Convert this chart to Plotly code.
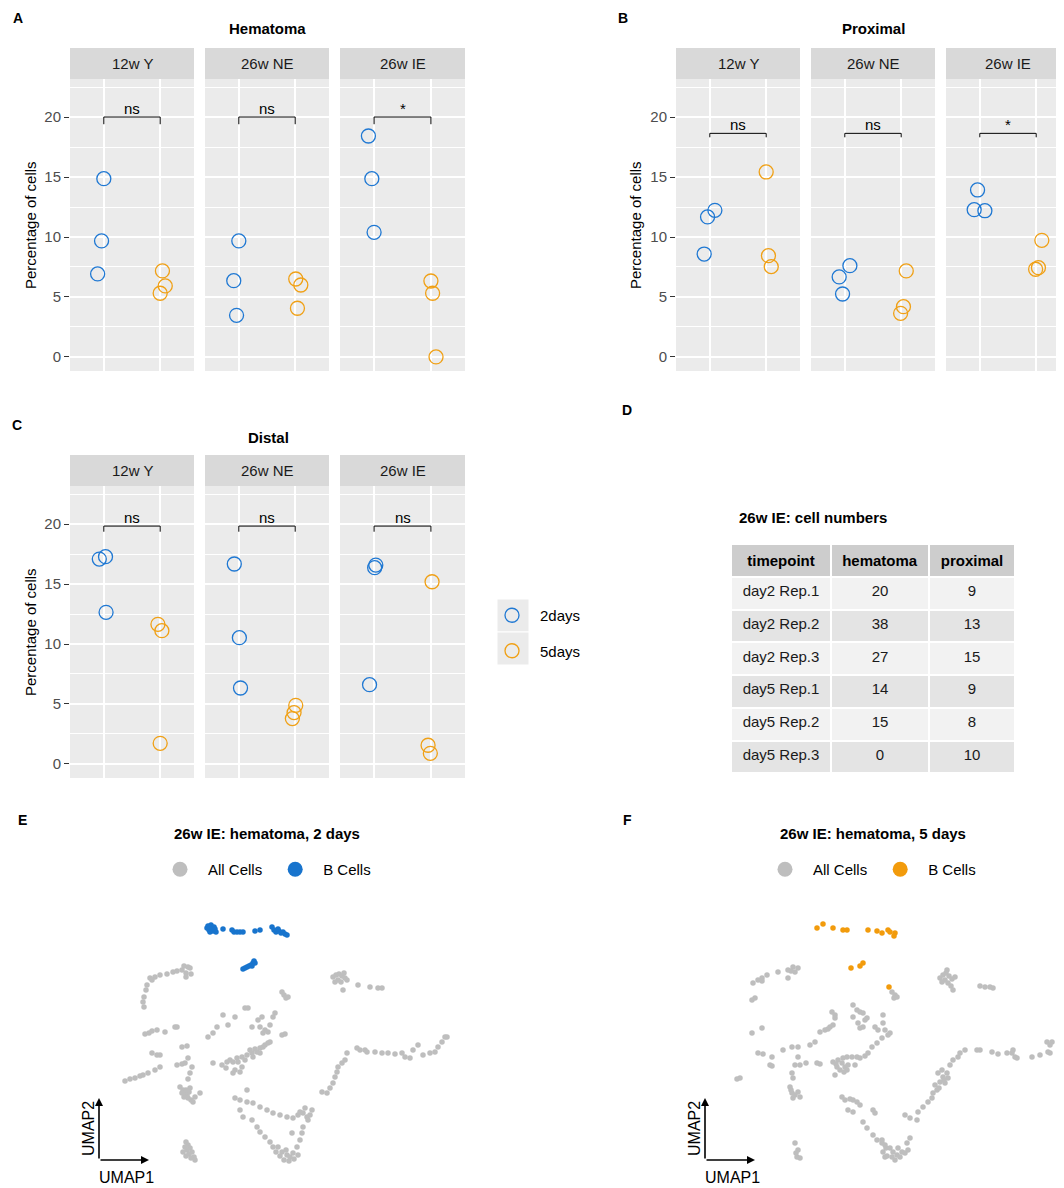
import plotly.graph_objects as go

# ---------------- data ----------------
regions = ["Hematoma", "Proximal", "Distal"]
facets = ["12w Y", "26w NE", "26w IE"]
groups = ["2days", "5days"]

# percentage of cells, per facet (12w Y, 26w NE, 26w IE), 3 replicates each
hema_2d = [[14.86, 9.67, 6.92], [9.67, 6.36, 3.47], [18.42, 14.86, 10.39]]
hema_2d_jit = [[0.0, -0.04, -0.11], [0.0, -0.09, -0.04], [-0.10, -0.04, 0.0]]
hema_5d = [[7.17, 5.92, 5.31], [6.50, 6.00, 4.06], [6.33, 5.31, 0.0]]
hema_5d_jit = [[0.04, 0.09, 0.0], [0.01, 0.10, 0.04], [0.0, 0.03, 0.09]]

prox_2d = [[12.22, 11.67, 8.58], [7.61, 6.67, 5.25], [13.92, 12.28, 12.19]]
prox_2d_jit = [[0.09, -0.04, -0.10], [0.09, -0.10, -0.04], [-0.04, -0.10, 0.09]]
prox_5d = [[15.42, 8.44, 7.53], [7.17, 4.19, 3.64], [9.72, 7.44, 7.31]]
prox_5d_jit = [[0.0, 0.04, 0.09], [0.09, 0.04, -0.01], [0.10, 0.04, -0.01]]

dist_2d = [[17.08, 17.28, 12.64], [16.67, 10.53, 6.33], [16.58, 16.36, 6.61]]
dist_2d_jit = [[-0.08, 0.03, 0.04], [-0.08, 0.01, 0.03], [0.03, 0.01, -0.08]]
dist_5d = [[11.64, 11.11, 1.72], [4.89, 4.28, 3.78], [15.19, 1.56, 0.89]]
dist_5d_jit = [[-0.04, 0.03, 0.0], [0.01, -0.02, -0.05], [0.02, -0.05, -0.01]]

sig_labels = [["ns", "ns", "*"], ["ns", "ns", "*"], ["ns", "ns", "ns"]]
bracket_y = [20.0, 18.64, 19.83]
bracket_tip = [0.6, 0.33, 0.47]

# table D
tbl_timepoint = ["day2 Rep.1", "day2 Rep.2", "day2 Rep.3", "day5 Rep.1", "day5 Rep.2", "day5 Rep.3"]
tbl_hematoma = [20, 38, 27, 14, 15, 0]
tbl_proximal = [9, 13, 15, 9, 8, 10]

# UMAP E (2 days): all cells
e_all_u1 = [4.4, 4.3, 4.4, 4.6, 4.7, 5.0, 5.5, 6.0, 6.7, 7.3, 7.7, 8.2, 8.6, 8.8, 9.0, 8.6, 9.1, 8.4, 5.2,
            23.3, 23.6, 23.9, 24.2, 24.5, 24.7, 23.8, 23.5, 24.1, 24.4, 24.3, 25.8, 27.0, 27.8, 28.2,
            18.2, 18.4, 18.6, 18.8,
            4.5, 4.9, 5.2, 5.7, 6.5, 7.5, 7.7,
            5.2, 5.7, 6.0, 8.2, 8.7,
            2.5, 3.0, 3.5, 4.0, 4.3, 4.8, 5.5, 6.0,
            7.7, 8.2, 8.5, 8.8, 9.2, 9.0, 8.8,
            8.0, 8.3, 8.5, 8.7, 8.9, 8.8, 9.1, 8.4, 9.0, 9.3, 10.0, 8.6, 8.2, 9.5,
            8.6, 8.8, 9.0, 8.7, 9.2, 8.9, 9.4, 8.6, 9.1, 9.5, 8.5, 8.3,
            10.8, 11.3, 11.7, 12.3, 12.8, 13.5, 14.5, 14.8,
            15.2, 15.8, 16.2, 16.0, 16.5, 16.8, 17.0, 17.5, 17.3, 18.2, 18.5, 16.3,
            12.2, 12.7, 13.0, 13.3, 13.7, 14.2, 14.7, 15.2, 15.7, 16.0, 16.3, 16.8, 14.5, 15.3, 16.0,
            13.3, 13.5, 14.0, 14.2, 11.3, 12.6, 15.0, 16.5, 13.8, 15.5, 17.0,
            13.5, 14.0, 14.7, 14.7, 15.3, 16.0, 16.7, 17.3, 18.0, 18.7, 19.3, 19.8, 20.3, 20.7, 21.2, 20.8,
            14.0, 14.3, 15.2, 15.7, 16.0, 16.5, 17.0, 17.3, 17.8, 18.2, 18.7, 19.0, 19.3, 19.7, 20.0, 20.2,
            20.3, 19.2, 17.6, 18.0, 18.4, 18.9, 19.4, 19.8, 18.6, 20.0, 20.5, 21.0,
            22.2, 22.7, 23.0, 23.3, 23.5, 23.7, 23.8, 24.2, 24.5, 24.7, 25.7, 26.0, 26.5, 26.7, 27.5,
            28.2, 28.8, 29.5, 30.2, 30.5, 31.0, 31.3, 31.8, 32.3, 33.0, 33.5, 33.8, 34.2, 34.5, 34.7]
e_all_u2 = [19.3, 19.8, 20.3, 21.0, 21.5, 22.2, 22.3, 22.5, 22.6, 22.8, 22.9, 23.0, 22.7, 23.3, 23.2, 22.3, 22.6, 23.4, 22.0,
            22.3, 22.5, 22.6, 22.4, 22.2, 22.0, 22.0, 21.8, 21.8, 22.7, 21.0, 21.5, 21.3, 21.2, 21.2,
            20.8, 20.5, 20.2, 20.3,
            16.6, 16.7, 16.9, 17.0, 16.8, 17.3, 17.3,
            14.7, 14.5, 14.5, 15.3, 15.4,
            11.9, 12.1, 12.2, 12.4, 12.5, 12.7, 13.0, 13.3,
            13.5, 13.6, 13.7, 14.2, 13.3, 12.7, 12.1,
            11.3, 11.0, 10.7, 10.5, 10.8, 10.2, 10.0, 10.3, 11.2, 9.8, 10.7, 11.0, 10.7, 10.3,
            5.8, 5.5, 5.2, 5.0, 4.8, 4.6, 4.3, 4.4, 4.2, 4.0, 5.3, 4.8,
            16.3, 16.7, 17.3, 18.5, 17.5, 18.3, 19.2, 19.2,
            17.3, 18.0, 18.3, 17.3, 17.0, 16.8, 17.5, 18.7, 18.3, 16.5, 16.6, 16.7,
            13.5, 13.8, 14.0, 13.8, 14.2, 14.3, 14.5, 14.7, 14.8, 15.2, 15.3, 15.7, 14.0, 14.3, 14.7,
            12.7, 13.0, 12.8, 13.3, 13.7, 13.2, 15.0, 15.5, 13.8, 15.1, 15.8,
            10.2, 10.0, 11.0, 9.8, 9.7, 9.3, 9.0, 8.7, 8.5, 8.3, 8.2, 8.5, 8.7, 8.3, 9.0, 8.0,
            9.0, 8.3, 8.0, 7.3, 6.8, 6.3, 5.8, 5.3, 5.3, 4.8, 4.5, 4.3, 4.7, 5.3, 6.0, 6.7,
            7.3, 6.7, 4.8, 4.4, 4.0, 3.9, 4.1, 4.5, 5.0, 8.8, 9.2, 8.5,
            10.8, 10.7, 11.2, 11.7, 12.3, 12.8, 13.3, 13.7, 14.0, 14.7, 15.2, 15.0, 15.0, 14.8, 14.8,
            14.7, 14.7, 14.6, 14.7, 14.3, 14.2, 15.0, 15.5, 14.5, 14.7, 14.8, 15.3, 15.8, 16.3, 16.3]
# UMAP E: B cells
e_b_u1 = [10.7, 10.8, 10.9, 11.0, 11.1, 11.2, 11.3, 11.4, 11.5, 11.6, 11.0, 12.3, 13.2, 13.4, 13.7, 14.0,
          14.3, 15.5, 16.0, 17.2, 17.4, 17.6, 17.9, 18.1, 18.3, 18.5, 18.7, 17.8,
          14.3, 14.5, 14.7, 14.9, 15.1, 15.3, 15.4, 15.5, 15.2]
e_b_u2 = [27.2, 27.4, 27.0, 27.3, 27.5, 27.1, 26.9, 27.3, 27.1, 26.8, 26.8, 27.1, 27.0, 26.8, 26.8, 26.8,
          26.8, 26.9, 27.0, 27.3, 27.0, 26.8, 26.9, 26.7, 26.8, 26.6, 26.5, 27.1,
          23.1, 23.2, 23.3, 23.4, 23.5, 23.7, 23.9, 23.7, 23.4]

# UMAP F (5 days): all cells
f_all_u1 = [5.3, 5.8, 6.2, 6.7, 7.8, 8.8, 8.8, 9.3, 9.8, 9.5, 9.1, 5.2, 5.5, 6.2,
            5.2, 6.2,
            5.8, 6.3, 7.2, 7.0, 7.2, 8.3, 9.2, 9.8, 9.8, 9.5, 10.0, 9.2, 9.3, 10.6, 11.0, 11.5, 12.0, 12.5,
            12.8, 13.0, 13.3, 13.2, 13.5, 13.5, 11.7, 12.0, 3.7, 4.0,
            9.0, 9.1, 9.2, 9.3, 9.8, 10.0, 9.5,
            9.5, 9.8, 9.7, 10.0, 9.6,
            13.3, 13.8, 14.2, 14.5, 13.7, 14.7, 14.0, 13.5, 14.3, 13.6, 14.8, 14.4,
            14.7, 15.2, 15.7, 16.0, 15.5, 16.5, 16.8, 17.2, 17.7, 17.5, 17.8, 18.3, 18.5, 18.2, 15.3, 15.7,
            16.0, 16.3, 16.7, 15.3, 15.8, 16.3, 16.0, 16.5, 18.3, 19.0, 18.8,
            14.2, 14.5, 15.0, 15.3, 15.7, 16.0, 14.8, 15.3, 16.3, 17.3, 17.5, 16.7, 17.3, 17.7, 18.2, 18.3,
            18.5, 18.6,
            19.2, 19.5, 19.7, 19.4,
            24.0, 24.3, 24.6, 24.9, 25.2, 24.5, 24.8, 25.1, 25.3, 24.2, 25.5, 24.7,
            28.0, 28.5, 29.0, 29.3,
            20.5, 21.0, 21.7, 21.8, 22.3, 22.8, 23.2, 23.3, 23.7, 23.5, 24.0, 24.3, 23.8, 24.2, 24.7, 24.8,
            24.5, 23.9, 24.4, 25.0, 25.3, 25.8, 26.0, 26.5, 27.7, 28.0, 29.2, 29.8, 30.7, 31.2, 31.3, 31.5,
            31.7, 33.2, 34.0, 34.7, 35.2, 35.0, 34.8, 35.0,
            18.2, 18.5, 19.0, 19.3, 19.7, 20.0, 20.5, 20.8, 21.0, 20.7, 19.5, 18.7, 20.2, 19.8, 19.2]
f_all_u2 = [21.7, 22.0, 22.2, 22.5, 22.8, 23.0, 22.2, 23.3, 23.2, 22.8, 22.9, 20.0, 20.2, 21.9,
            16.7, 17.2,
            14.7, 14.6, 14.3, 13.5, 13.4, 15.0, 15.3, 15.3, 14.3, 13.5, 13.5, 12.7, 12.2, 13.7, 15.5, 15.8,
            16.8, 17.0, 17.1, 17.3, 17.5, 18.8, 18.5, 18.2, 13.7, 13.6, 12.1, 12.2,
            11.3, 11.0, 10.7, 10.2, 10.8, 10.3, 10.5,
            5.7, 5.0, 4.3, 4.2, 4.7,
            13.8, 14.0, 13.7, 13.3, 13.3, 13.0, 13.0, 12.5, 14.2, 13.6, 13.5, 12.8,
            14.3, 14.3, 14.3, 14.2, 13.5, 14.4, 14.7, 15.3, 15.7, 17.3, 17.0, 17.7, 17.0, 16.2, 19.5, 19.0,
            18.8, 18.7, 18.2, 18.3, 17.7, 17.3, 17.2, 18.0, 18.5, 16.7, 16.5,
            10.3, 10.0, 10.1, 10.0, 9.8, 9.5, 9.0, 8.8, 7.8, 9.0, 8.7, 7.2, 6.5, 6.0, 5.7, 4.8,
            4.3, 5.2,
            20.8, 20.5, 20.3, 20.2,
            22.2, 22.5, 22.7, 22.4, 22.1, 22.0, 21.7, 21.4, 21.0, 21.8, 22.3, 23.0,
            21.4, 21.3, 21.3, 21.2,
            8.5, 8.2, 8.0, 8.8, 9.3, 9.8, 10.2, 10.7, 11.0, 11.5, 11.8, 12.3, 12.7, 13.0, 12.7, 12.2,
            11.7, 11.2, 12.0, 13.5, 14.0, 14.3, 14.7, 15.0, 15.0, 15.0, 14.8, 14.6, 14.7, 14.7, 15.0, 14.3,
            14.2, 14.3, 14.5, 15.8, 15.8, 15.5, 14.8, 14.7,
            6.0, 5.5, 5.2, 4.8, 4.5, 4.3, 4.7, 5.0, 6.2, 5.7, 4.0, 4.4, 4.8, 5.2, 4.3]
# UMAP F: B cells
f_b_u1 = [11.7, 12.3, 13.3, 14.3, 14.7, 16.8, 17.7, 18.2, 18.8, 19.0, 19.5, 19.4, 15.1, 16.0, 16.3, 18.9]
f_b_u2 = [27.2, 27.6, 27.2, 27.0, 27.0, 27.0, 26.9, 26.7, 27.0, 26.8, 26.7, 26.4, 23.2, 23.4, 23.7, 21.3]

# ---------------- styling ----------------
PAGE_OFF = 8                      # default body margin of the html page
W, H = 1064 - PAGE_OFF, 1188 - PAGE_OFF
FONT = "Liberation Sans, Arial, Helvetica, sans-serif"
BLUE = "#1F78D3"
ORANGE = "#F0A015"
B_BLUE = "#1874CD"
B_ORANGE = "#F29B0C"
GRAY = "#BEBEBE"


def px(x):
    return min(1.0, max(0.0, (x - PAGE_OFF) / W))


def py(y):
    return min(1.0, max(0.0, 1 - (y - PAGE_OFF) / H))


def sfx(k):
    return "" if k == 1 else str(k)


fig = go.Figure()
annotations = []
shapes = []

region_data = [
    (hema_2d, hema_2d_jit, hema_5d, hema_5d_jit),
    (prox_2d, prox_2d_jit, prox_5d, prox_5d_jit),
    (dist_2d, dist_2d_jit, dist_5d, dist_5d_jit),
]
panel_cols = [
    [(70, 194), (205, 329), (340, 465)],
    [(676, 800), (811, 935), (946, 1070)],
    [(70, 194), (205, 329), (340, 465)],
]
panel_rows = [(48, 79, 371), (48, 79, 371), (455, 486, 778)]  # strip top, panel top, panel bottom
titles_pos = [(267, 29), (873, 29), (268, 437)]
letters = [("A", 18, 18), ("B", 623, 18), ("C", 17, 425), ("D", 627, 410), ("E", 22, 820), ("F", 627, 820)]
ytitle_x = [30, 635, 30]
ylab_y = [(79 + 371) / 2, (79 + 371) / 2, (486 + 778) / 2]

k = 0
for r in range(3):
    d2, j2, d5, j5 = region_data[r]
    s0, p0, p1 = panel_rows[r]
    for f in range(3):
        k += 1
        s = sfx(k)
        a, b = panel_cols[r][f]
        b_clip = min(b, 1064)
        unit = (b - a) / 2.2
        xr = [0.4, 0.4 + (b_clip - a) / unit]
        xa = dict(domain=[px(a), px(b_clip)], range=xr, tickvals=[1, 2], showticklabels=False,
                  ticks="", showgrid=True, gridcolor="white", gridwidth=1.6, zeroline=False,
                  showline=False, fixedrange=True, anchor=f"y{s}")
        ya = dict(domain=[py(p1), py(p0)], range=[-1.17, 23.17], tickmode="linear", tick0=0, dtick=5,
                  showgrid=True, gridcolor="white", gridwidth=1.6, zeroline=False, showline=False,
                  minor=dict(dtick=2.5, tick0=0, showgrid=True, gridcolor="white", gridwidth=0.8, ticks=""),
                  fixedrange=True, anchor=f"x{s}")
        if f == 0:
            ya.update(ticks="outside", ticklen=5, tickwidth=1, tickcolor="#333333", showticklabels=True,
                      tickfont=dict(family=FONT, size=15, color="#4D4D4D"))
        else:
            ya.update(ticks="", showticklabels=False)
        fig.update_layout(**{f"xaxis{s}": xa, f"yaxis{s}": ya})

        # panel background and strip
        shapes.append(dict(type="rect", xref=f"x{s} domain", yref=f"y{s} domain", x0=0, x1=1, y0=0, y1=1,
                           fillcolor="#EBEBEB", line=dict(width=0), layer="below"))
        shapes.append(dict(type="rect", xref="paper", yref="paper", x0=px(a), x1=px(b_clip), y0=py(p0), y1=py(s0),
                           fillcolor="#D9D9D9", line=dict(width=0), layer="below"))
        annotations.append(dict(text=facets[f], x=px((a + b) / 2), y=py((s0 + p0) / 2), xref="paper", yref="paper",
                                showarrow=False, font=dict(family=FONT, size=15, color="#1A1A1A"),
                                xanchor="center", yanchor="middle"))

        show = (r == 2 and f == 0)
        fig.add_trace(go.Scatter(x=[1 + v for v in j2[f]], y=d2[f], mode="markers", name=groups[0],
                                 marker=dict(symbol="circle-open", size=14, color=BLUE, line=dict(width=1.3, color=BLUE)),
                                 xaxis=f"x{s}", yaxis=f"y{s}", showlegend=show, legend="legend",
                                 legendgroup="g2"))
        fig.add_trace(go.Scatter(x=[2 + v for v in j5[f]], y=d5[f], mode="markers", name=groups[1],
                                 marker=dict(symbol="circle-open", size=14, color=ORANGE, line=dict(width=1.3, color=ORANGE)),
                                 xaxis=f"x{s}", yaxis=f"y{s}", showlegend=show, legend="legend",
                                 legendgroup="g5"))
        # significance bracket
        by, bt = bracket_y[r], bracket_tip[r]
        fig.add_trace(go.Scatter(x=[1, 1, 2, 2], y=[by - bt, by, by, by - bt], mode="lines",
                                 line=dict(color="black", width=1), xaxis=f"x{s}", yaxis=f"y{s}",
                                 showlegend=False, hoverinfo="skip"))
        annotations.append(dict(text=sig_labels[r][f], x=1.5, y=by, xref=f"x{s}", yref=f"y{s}",
                                showarrow=False, xanchor="center", yanchor="bottom", yshift=-2,
                                font=dict(family=FONT, size=15, color="black")))

    # titles
    tx, ty = titles_pos[r]
    annotations.append(dict(text=f"<b>{regions[r]}</b>", x=px(tx), y=py(ty), xref="paper", yref="paper",
                            showarrow=False, font=dict(family=FONT, size=15, color="black"),
                            xanchor="center", yanchor="middle"))
    annotations.append(dict(text="Percentage of cells", x=px(ytitle_x[r]), y=py(ylab_y[r]), xref="paper",
                            yref="paper", showarrow=False, textangle=-90,
                            font=dict(family=FONT, size=15, color="black"), xanchor="center", yanchor="middle"))

for t, lx, ly in letters:
    annotations.append(dict(text=f"<b>{t}</b>", x=px(lx), y=py(ly), xref="paper", yref="paper",
                            showarrow=False, font=dict(family=FONT, size=14, color="black"),
                            xanchor="center", yanchor="middle"))

# legend key backgrounds for C
shapes.append(dict(type="rect", xref="paper", yref="paper", x0=px(497), x1=px(529), y0=py(632), y1=py(599),
                   fillcolor="#EBEBEB", line=dict(color="white", width=1), layer="below"))
shapes.append(dict(type="rect", xref="paper", yref="paper", x0=px(497), x1=px(529), y0=py(665), y1=py(632),
                   fillcolor="#EBEBEB", line=dict(color="white", width=1), layer="below"))

# ---------------- table D ----------------
row_fill = ["#F2F2F2" if i % 2 == 0 else "#E4E4E4" for i in range(len(tbl_timepoint))]
fig.add_trace(go.Table(
    domain=dict(x=[px(731), px(1015)], y=[py(772), py(544)]),
    columnwidth=[100, 98, 86],
    header=dict(values=["<b>timepoint</b>", "<b>hematoma</b>", "<b>proximal</b>"],
                fill_color="#CDCDCD", line=dict(color="white", width=2), align="center",
                font=dict(family=FONT, size=15, color="black"), height=32),
    cells=dict(values=[tbl_timepoint, tbl_hematoma, tbl_proximal],
               fill_color=[row_fill, row_fill, row_fill], line=dict(color="white", width=2), align="center",
               font=dict(family=FONT, size=15, color="#1A1A1A"), height=32.7),
))
annotations.append(dict(text="<b>26w IE: cell numbers</b>", x=px(737), y=py(518), xref="paper", yref="paper",
                        showarrow=False, xanchor="left", yanchor="middle",
                        font=dict(family=FONT, size=15, color="black")))

# ---------------- UMAP E / F ----------------
umaps = [
    (10, [95, 480], [-0.5, 38.0], e_all_u1, e_all_u2, e_b_u1, e_b_u2, B_BLUE, "legend2",
     "26w IE: hematoma, 2 days", 267, 99, 149),
    (11, [690, 1064], [-1.0, 36.4], f_all_u1, f_all_u2, f_b_u1, f_b_u2, B_ORANGE, "legend3",
     "26w IE: hematoma, 5 days", 873, 705, 755),
]
for (ax, dom, xr, au1, au2, bu1, bu2, bcol, leg, title, tcx, arx, arx2) in umaps:
    fig.update_layout(**{
        f"xaxis{ax}": dict(domain=[px(dom[0]), px(dom[1])], range=xr, visible=False, fixedrange=True,
                           anchor=f"y{ax}"),
        f"yaxis{ax}": dict(domain=[0, py(880)], range=[1.2, 32.0], visible=False, fixedrange=True,
                           anchor=f"x{ax}"),
    })
    fig.add_trace(go.Scatter(x=au1, y=au2, mode="markers", name="All Cells",
                             marker=dict(size=5.5, color=GRAY), xaxis=f"x{ax}", yaxis=f"y{ax}",
                             showlegend=False))
    fig.add_trace(go.Scatter(x=bu1, y=bu2, mode="markers", name="B Cells",
                             marker=dict(size=5.5, color=bcol), xaxis=f"x{ax}", yaxis=f"y{ax}",
                             showlegend=False))
    # legend entries
    fig.add_trace(go.Scatter(x=[None], y=[None], mode="markers", name="All Cells",
                             marker=dict(size=15, color=GRAY), xaxis=f"x{ax}", yaxis=f"y{ax}",
                             showlegend=True, legend=leg))
    fig.add_trace(go.Scatter(x=[None], y=[None], mode="markers", name="B Cells",
                             marker=dict(size=15, color=bcol), xaxis=f"x{ax}", yaxis=f"y{ax}",
                             showlegend=True, legend=leg))
    annotations.append(dict(text=f"<b>{title}</b>", x=px(tcx), y=py(833), xref="paper", yref="paper",
                            showarrow=False, xanchor="center", yanchor="middle",
                            font=dict(family=FONT, size=15, color="black")))
    # UMAP axis arrows
    annotations.append(dict(text="", x=px(arx), y=py(1098), xref="paper", yref="paper", ax=0, ay=62,
                            showarrow=True, arrowhead=2, arrowsize=1, arrowwidth=1.6, arrowcolor="black",
                            standoff=0, startstandoff=0))
    annotations.append(dict(text="", x=px(arx2), y=py(1160), xref="paper", yref="paper", ax=-(arx2 - arx), ay=0,
                            showarrow=True, arrowhead=2, arrowsize=1, arrowwidth=1.6, arrowcolor="black",
                            standoff=0, startstandoff=0))
    annotations.append(dict(text="UMAP1", x=px(arx + 27), y=py(1177), xref="paper", yref="paper",
                            showarrow=False, xanchor="center", yanchor="middle",
                            font=dict(family=FONT, size=16, color="black")))
    annotations.append(dict(text="UMAP2", x=px(arx - 11), y=py(1129), xref="paper", yref="paper",
                            showarrow=False, xanchor="center", yanchor="middle", textangle=-90,
                            font=dict(family=FONT, size=16, color="black")))

leg_font = dict(family=FONT, size=15, color="black")
fig.update_layout(
    width=W, height=H, margin=dict(l=0, r=0, t=0, b=0),
    paper_bgcolor="white", plot_bgcolor="white",
    font=dict(family=FONT),
    annotations=annotations, shapes=shapes,
    legend=dict(x=px(484), y=py(599), xanchor="left", yanchor="top", orientation="v", itemwidth=46,
                font=leg_font, bgcolor="rgba(0,0,0,0)", tracegroupgap=13, itemclick=False),
    legend2=dict(x=px(152), y=py(853), xanchor="left", yanchor="top", orientation="h", itemwidth=46,
                 font=leg_font, bgcolor="rgba(0,0,0,0)", itemclick=False),
    legend3=dict(x=px(757), y=py(853), xanchor="left", yanchor="top", orientation="h", itemwidth=46,
                 font=leg_font, bgcolor="rgba(0,0,0,0)", itemclick=False),
)

fig.write_html("out.html")
